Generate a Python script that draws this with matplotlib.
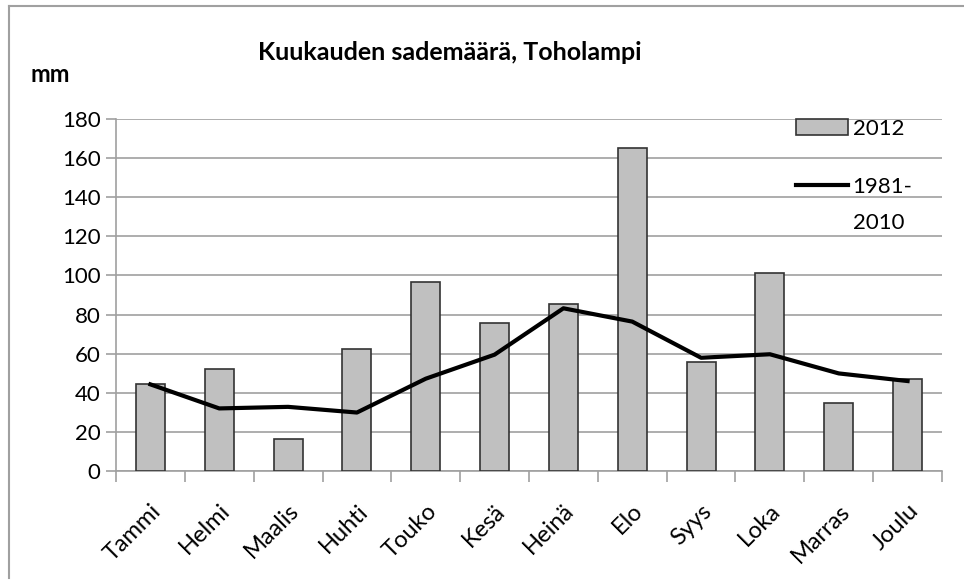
import matplotlib.pyplot as plt
import numpy as np
from matplotlib.lines import Line2D
from matplotlib.patches import Patch

plt.rcParams['font.family'] = ['Lato', 'DejaVu Sans']

# kuukaudet
months = ['Tammi', 'Helmi', 'Maalis', 'Huhti', 'Touko', 'Kesä',
          'Heinä', 'Elo', 'Syys', 'Loka', 'Marras', 'Joulu']
# sademäärä 2012 (mm)
rain_2012 = [44.5, 52, 16.3, 62.4, 96.7, 75.5, 85.5, 165.3, 55.7, 101.3, 34.7, 47.3]
# keskiarvo 1981-2010 (mm)
rain_normal = [44.3, 32.0, 32.8, 29.9, 47.2, 59.5, 83.2, 76.4, 57.9, 59.7, 49.9, 46.0]
y_ticks = [0, 20, 40, 60, 80, 100, 120, 140, 160, 180]

fig = plt.figure(figsize=(9.64, 5.81), dpi=100)
W, H = 964, 581
ax = fig.add_axes([116 / W, 1 - 471 / H, (942 - 116) / W, (471 - 119) / H])

x = np.arange(len(months))
ax.bar(x, rain_2012, width=0.42, color='#c0c0c0', edgecolor='#333333', linewidth=1.2, zorder=3)
ax.plot(x, rain_normal, color='black', linewidth=3, zorder=4)

ax.set_xlim(-0.5, len(months) - 0.5)
ax.set_ylim(0, 180)
ax.set_yticks(y_ticks)
ax.yaxis.grid(True, color='#a0a0a0', linewidth=1.2, zorder=0)
ax.set_axisbelow(True)

for s in ['top', 'right']:
    ax.spines[s].set_visible(False)
ax.spines['left'].set_color('#a0a0a0')
ax.spines['bottom'].set_color('#a0a0a0')
ax.spines['left'].set_linewidth(1.2)
ax.spines['bottom'].set_linewidth(1.2)

ax.tick_params(axis='y', length=7, color='#a0a0a0', width=1.2, labelsize=16, pad=4)
ax.set_xticks(x)
ax.set_xticklabels(months, rotation=45, ha='right', rotation_mode='anchor', fontsize=17)
ax.tick_params(axis='x', length=0, pad=21)
ax.set_xticks(np.arange(-0.5, len(months)), minor=True)
ax.tick_params(axis='x', which='minor', length=8, color='#a0a0a0', width=1.2)

# selite
handles = [Patch(facecolor='#c0c0c0', edgecolor='#333333', linewidth=1.2),
           Line2D([0], [0], color='black', linewidth=3)]
ax.legend(handles, ['2012', '1981-'], loc='upper left',
          bbox_to_anchor=(796 / W, 1 - 119 / H), bbox_transform=fig.transFigure,
          frameon=False, fontsize=16, handlelength=2.35, handletextpad=0.2,
          labelspacing=1.7, borderpad=0, borderaxespad=0)
fig.text(853 / W, 1 - 223 / H, '2010', ha='left', va='center', fontsize=16)

fig.text(450 / W, 1 - 52 / H, 'Kuukauden sademäärä, Toholampi', ha='center', va='center',
         fontsize=18, fontweight='bold')
fig.text(30 / W, 1 - 75 / H, 'mm', ha='left', va='center', fontsize=17, fontweight='bold')

# kehys
fig.add_artist(Line2D([9 / W, 9 / W], [1 - 6 / H, 1 - 578 / H], color='#a0a0a0', linewidth=1.5))
fig.add_artist(Line2D([9 / W, 1], [1 - 6 / H, 1 - 6 / H], color='#a0a0a0', linewidth=1.5))

fig.savefig('out.png', dpi=100)
